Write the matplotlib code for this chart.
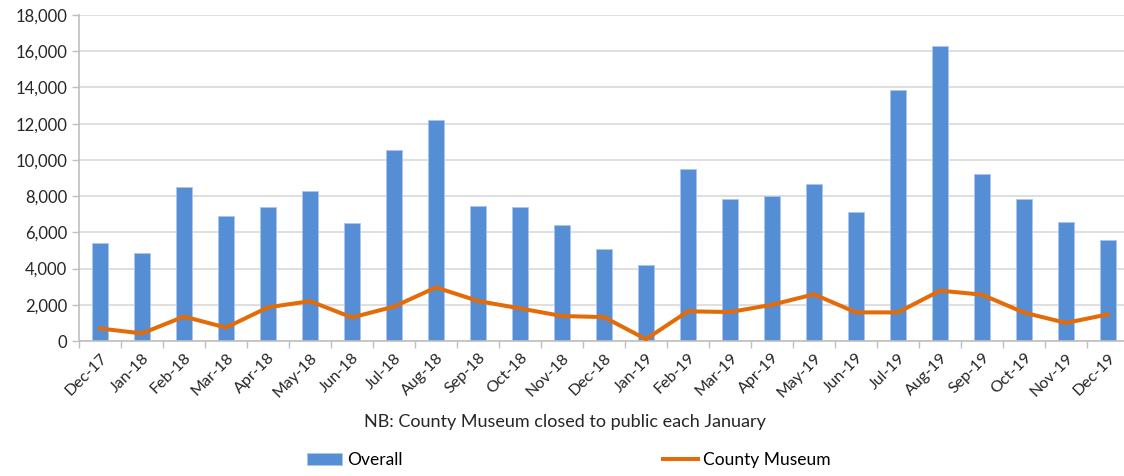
import numpy as np
import matplotlib.pyplot as plt

plt.rcParams['font.family'] = ['Lato', 'DejaVu Sans']

months = ['Dec-17', 'Jan-18', 'Feb-18', 'Mar-18', 'Apr-18', 'May-18', 'Jun-18',
          'Jul-18', 'Aug-18', 'Sep-18', 'Oct-18', 'Nov-18', 'Dec-18', 'Jan-19',
          'Feb-19', 'Mar-19', 'Apr-19', 'May-19', 'Jun-19', 'Jul-19', 'Aug-19',
          'Sep-19', 'Oct-19', 'Nov-19', 'Dec-19']
overall = [5400, 4880, 8500, 6900, 7380, 8270, 6540, 10570, 12190, 7480, 7380,
           6390, 5080, 4200, 9520, 7840, 8000, 8690, 7100, 13860, 16290, 9220,
           7820, 6550, 5580]
county_museum = [690, 420, 1350, 740, 1860, 2200, 1300, 1900, 2960, 2210, 1800,
                 1380, 1320, 100, 1640, 1600, 2000, 2580, 1580, 1580, 2780, 2560,
                 1570, 1000, 1470]

x = np.arange(len(months))

fig = plt.figure(figsize=(11.24, 4.76), dpi=100)
ax = fig.add_axes([0.0703, 0.2836, 0.9341, 0.6849])

bars = ax.bar(x, overall, width=0.4, color='#558ED5', edgecolor='#A9C6EC',
              linewidth=0.6, label='Overall', zorder=2)
line, = ax.plot(x, county_museum, color='#E36C09', linewidth=2.9,
                solid_joinstyle='round', label='County Museum', zorder=3)

ax.set_xlim(-0.5, len(months) - 0.5)
ax.set_ylim(0, 18000)
ax.set_yticks(np.arange(0, 18001, 2000))
ax.yaxis.set_major_formatter(plt.FuncFormatter(lambda v, p: f'{int(v):,}'))
ax.grid(axis='y', color='#D9D9D9', linewidth=1.2, zorder=0)
ax.set_axisbelow(True)

# tick marks sit between categories, labels sit under each bar
ax.set_xticks(np.arange(-0.5, len(months), 1.0))
ax.set_xticklabels([])
ax.set_xticks(x, minor=True)
ax.set_xticklabels(months, minor=True, rotation=45, ha='right',
                   rotation_mode='anchor', fontsize=11.5, color='#262626')
ax.tick_params(axis='x', which='major', length=5, color='#BFBFBF', width=1)
ax.tick_params(axis='x', which='minor', length=0, pad=7)
ax.tick_params(axis='y', length=5, color='#BFBFBF', width=1,
               labelsize=12, labelcolor='#262626')

for side in ['top', 'right']:
    ax.spines[side].set_visible(False)
ax.spines['left'].set_color('#BFBFBF')
ax.spines['bottom'].set_color('#BFBFBF')
ax.spines['left'].set_linewidth(1.2)
ax.spines['bottom'].set_linewidth(1.2)

fig.text(0.503, 0.113, 'NB: County Museum closed to public each January',
         ha='center', va='center', fontsize=13, color='#262626')

leg_kw = dict(frameon=False, fontsize=12.5, handlelength=2.0,
              handletextpad=0.3, borderpad=0, borderaxespad=0)
fig.legend(handles=[bars], labels=['Overall'], loc='center left',
           bbox_to_anchor=(0.273, 0.033), **leg_kw)
fig.legend(handles=[line], labels=['County Museum'], loc='center left',
           bbox_to_anchor=(0.590, 0.033), **leg_kw)

fig.savefig('out.png', dpi=100)
